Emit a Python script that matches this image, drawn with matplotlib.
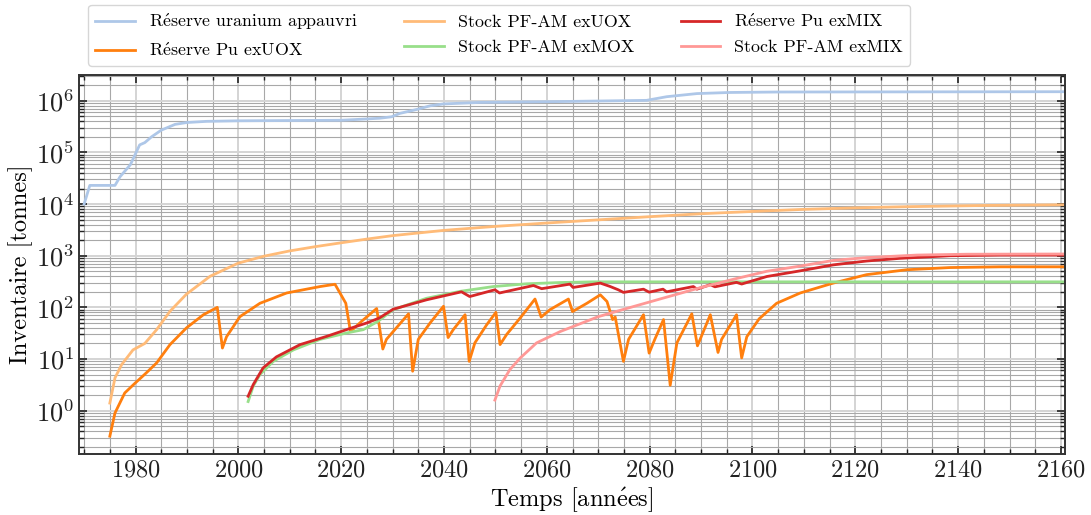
import numpy as np
import matplotlib
matplotlib.use("Agg")
import matplotlib.pyplot as plt
from matplotlib.ticker import MultipleLocator, LogLocator, NullFormatter, FixedLocator

plt.rcParams['font.family'] = 'serif'
plt.rcParams['font.serif'] = ['cmr10']
plt.rcParams['mathtext.fontset'] = 'cm'
plt.rcParams['axes.formatter.use_mathtext'] = True

E = r'$\mathrm{\acute{e}}$'

# ---- data (year, tonnes) ----
u_years = [1970, 1971.1, 1976, 1977, 1979, 1980.8, 1981.8, 1983.1, 1985, 1987.7, 1990,
           1993.8, 2000, 2020, 2024, 2027.5, 2029.8, 2031.4, 2034.7, 2037.3, 2039.9,
           2047, 2060, 2079.4, 2083.3, 2089.2, 2095.6, 2105, 2160.8]
u_vals = [1.0e4, 2.3e4, 2.3e4, 3.4e4, 5.8e4, 1.4e5, 1.55e5, 2.0e5, 2.7e5, 3.5e5, 3.8e5,
          4.0e5, 4.1e5, 4.2e5, 4.4e5, 4.6e5, 4.9e5, 5.7e5, 6.8e5, 8.0e5, 8.7e5,
          9.3e5, 9.6e5, 1.02e6, 1.2e6, 1.38e6, 1.45e6, 1.48e6, 1.5e6]

pu_uox_years = [1975, 1976, 1977.9, 1979.9, 1982.1, 1984.1, 1986.7, 1989.9, 1993.2, 1995.9,
                1996.9, 1997.7, 2000.3, 2004.2, 2009.4, 2015.9, 2018.8, 2020.9, 2021.8,
                2024, 2026.9, 2028.1, 2028.8, 2033.1, 2033.9, 2035, 2037.3, 2039.9,
                2040.8, 2041.8, 2044.1, 2044.9, 2046, 2048.3, 2050.1, 2050.9, 2052.2,
                2054.8, 2057.7, 2058.9, 2060.6, 2064.2, 2065, 2067.8, 2070.4, 2071.7,
                2072.8, 2073.3, 2074.9, 2075.9, 2078.8, 2079.9, 2081, 2082.7, 2084,
                2085.3, 2088.2, 2089.3, 2091.8, 2093.3, 2094, 2096.9, 2097.9, 2098.9,
                2101.3, 2104.7, 2109.3, 2115.7, 2122.2, 2130, 2138.4, 2148.2, 2160.8]
pu_uox_vals = [0.32, 0.9, 2.2, 3.4, 5.4, 8.4, 19, 40, 72, 100,
               16.3, 27, 66, 120, 190, 253, 280, 120, 34,
               54, 95, 15.6, 24, 75, 5.8, 24, 50, 105,
               26, 37, 72, 9, 20.5, 46, 80, 19, 30,
               62, 145, 65, 90, 145, 83, 120, 175, 130,
               58, 65, 9, 24, 72, 13, 24, 58, 3.1,
               20.5, 75, 18, 72, 13.4, 24, 72, 10.5, 27,
               60, 120, 190, 295, 430, 535, 590, 610, 610]

pfam_uox_years = [1975, 1976, 1977.3, 1979.5, 1981.8, 1984.1, 1986.7, 1989.9, 1994.5,
                  2000, 2005, 2010, 2015, 2020, 2025, 2030, 2040, 2050, 2060, 2070, 2080,
                  2090, 2100, 2110, 2120, 2130, 2145, 2160.8]
pfam_uox_vals = [1.4, 4.3, 7.8, 15, 20, 37, 84, 180, 400,
                 720, 980, 1240, 1500, 1780, 2100, 2450, 3100, 3700, 4300, 4950, 5700,
                 6500, 7200, 7900, 8450, 8900, 9400, 9700]

pfam_mox_years = [2001.9, 2002.9, 2004.2, 2006.8, 2010.7, 2015.9, 2021.1, 2024.3, 2027.2,
                  2030.1, 2036.6, 2043.1, 2049.6, 2056.1, 2062.6, 2069, 2160.8]
pfam_mox_vals = [1.5, 3.0, 5.0, 9.0, 15, 24, 32, 37, 54,
                 90, 150, 204, 253, 286, 303, 312, 312]

pu_mix_years = [2001.9, 2002.9, 2004.8, 2007.4, 2012, 2017.2, 2021.7, 2025, 2027.4, 2030.1,
                2036.6, 2043.4, 2045, 2049.9, 2050.8, 2057.4, 2059, 2064.5, 2065.1,
                2070.4, 2072.3, 2073.9, 2074.9, 2078.8, 2079.9, 2082.6, 2083.3, 2088.5,
                2089.2, 2091.8, 2092.7, 2096.9, 2097.9, 2102.8, 2109.3, 2115.7, 2122.2,
                2128.7, 2138.4, 2148.2, 2160.8]
pu_mix_vals = [1.9, 3.2, 6.7, 11, 19, 27.5, 39, 50, 62, 92,
               140, 200, 162, 219, 190, 265, 230, 282, 243,
               295, 254, 219, 195, 225, 197, 225, 200, 253,
               225, 275, 250, 305, 283, 396, 510, 665, 790,
               890, 1000, 1030, 1030]

pfam_mix_years = [2049.9, 2050.9, 2052.8, 2054.8, 2058, 2062.6, 2070, 2075.5, 2082, 2089.8,
                  2096.3, 2102.8, 2109.3, 2115.7, 2122.2, 2132, 2141.7, 2160.8]
pfam_mix_vals = [1.6, 3.0, 6.2, 10.4, 20.5, 34, 66, 95, 145, 240,
                 350, 500, 630, 810, 920, 1030, 1070, 1080]

y_ticks = [1e0, 1e1, 1e2, 1e3, 1e4, 1e5, 1e6]

labels = ['R' + E + 'serve uranium appauvri', 'R' + E + 'serve Pu exUOX',
          'Stock PF-AM exUOX', 'Stock PF-AM exMOX',
          'R' + E + 'serve Pu exMIX', 'Stock PF-AM exMIX']
colors = ['#aec7e8', '#ff7f0e', '#ffbb78', '#98df8a', '#d62728', '#ff9896']

series = [(u_years, u_vals), (pu_uox_years, pu_uox_vals), (pfam_uox_years, pfam_uox_vals),
          (pfam_mox_years, pfam_mox_vals), (pu_mix_years, pu_mix_vals),
          (pfam_mix_years, pfam_mix_vals)]

fig = plt.figure(figsize=(10.91, 5.15), dpi=100)
ax = fig.add_axes([0.0724, 0.1184, 0.9038, 0.736])

for (xs, ys), lab, col in zip(series, labels, colors):
    ax.plot(xs, ys, color=col, lw=2, label=lab)

ax.set_yscale('log')
ax.set_xlim(1969, 2160.8)
ax.set_ylim(10 ** -0.84, 10 ** 6.5)

ax.xaxis.set_major_locator(MultipleLocator(20))
ax.xaxis.set_minor_locator(MultipleLocator(5))
ax.yaxis.set_major_locator(FixedLocator(y_ticks))
ax.yaxis.set_minor_locator(LogLocator(base=10, subs=np.arange(2, 10), numticks=20))
ax.yaxis.set_minor_formatter(NullFormatter())

ax.grid(True, which='major', color='#d4d4d4', lw=1.4)
ax.grid(True, which='minor', color='#a8a8a8', lw=0.8)
ax.set_axisbelow(True)

ax.tick_params(which='both', direction='in', top=True, right=True, colors='#222222',
               labelsize=17.5)
ax.tick_params(axis='y', which='major', labelsize=19)
ax.tick_params(which='major', length=6, width=1.2)
ax.tick_params(which='minor', length=3.5, width=1.0)
for s in ax.spines.values():
    s.set_linewidth(1.4)
    s.set_color('#333333')

ax.set_xlabel('Temps [ann' + E + 'es]', fontsize=17.6, labelpad=3)
ax.set_ylabel('Inventaire [tonnes]', fontsize=17.6, labelpad=2)

ax.legend(loc='lower left', bbox_to_anchor=(0.0, 1.0), ncol=3, fontsize=12.9,
          handlelength=2.2, columnspacing=2.6, borderaxespad=0.5)

fig.savefig('out.png', dpi=100)
